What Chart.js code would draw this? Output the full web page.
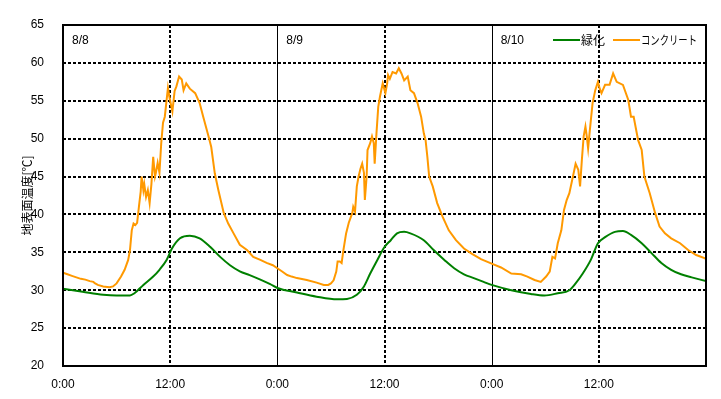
<!DOCTYPE html>
<html>
<head>
<meta charset="utf-8">
<script src="https://cdn.jsdelivr.net/npm/chart.js@4/dist/chart.umd.min.js"></script>
<style>
html,body{margin:0;padding:0;background:#fff;}
#wrap{width:721px;height:399px;position:relative;}
</style>
</head>
<body>
<div id="wrap"><canvas id="c" width="721" height="399"></canvas></div>
<script>
// ---- data ----
const xTickLabels = ["0:00","12:00","0:00","12:00","0:00","12:00"];
const dayLabels = ["8/8","8/9","8/10"];
const seriesNames = ["緑化","コンクリート"];
const yTitle = "地表面温度[℃]";

const greenHours = [0,2.2,4.5,6.0,7.5,8.0,9.0,10.1,10.8,11.6,12.2,13.1,14.2,15.3,16.5,17.6,18.7,19.8,20.9,22.1,23.2,
  24.0,26.2,28.4,30.7,31.8,32.9,33.7,34.4,35.2,36.0,36.7,37.4,38.2,38.9,40.4,41.5,42.7,43.8,44.9,46.0,47.1,
  48.0,50.2,52.4,53.9,55.4,56.7,57.4,58.2,59.1,59.9,60.7,61.8,62.7,63.6,64.8,65.9,67.0,68.1,69.2,70.4,72.0];
const greenValues = [30.2,29.8,29.4,29.3,29.3,29.6,30.7,31.8,32.7,34.0,35.5,36.85,37.2,36.85,35.7,34.4,33.3,32.5,32.0,31.4,30.8,
  30.3,29.7,29.15,28.8,28.85,29.4,30.5,32.2,34.0,35.7,36.6,37.5,37.7,37.5,36.6,35.3,34.0,32.9,32.1,31.6,31.1,
  30.7,30.0,29.5,29.3,29.6,30.0,30.9,32.2,34.0,36.2,37.0,37.7,37.8,37.3,36.2,34.9,33.6,32.7,32.1,31.7,31.2];

const concHours = [0,0.5,1,1.5,2,2.5,3,3.4,3.6,3.9,4.5,5.2,5.6,6.0,6.5,6.9,7.3,7.5,7.7,7.9,8.1,8.3,8.5,8.7,8.8,9.0,9.1,9.3,9.5,9.7,9.9,
  10.1,10.3,10.4,10.6,10.8,11.0,11.2,11.4,11.6,11.75,11.9,12.0,12.25,12.5,12.7,13.0,13.3,13.5,13.8,14.2,14.8,15.3,15.7,16.3,16.6,
  17.0,17.4,18.0,18.5,19.1,19.8,20.6,21.3,22.1,22.8,23.5,
  24.0,24.5,25.1,25.6,26.2,27.3,28.4,29.2,29.7,30.0,30.3,30.6,30.75,31.0,31.2,31.4,31.7,32.0,32.4,32.5,32.7,32.9,33.1,33.3,33.5,
  33.7,33.8,34.0,34.1,34.4,34.6,34.8,34.9,35.1,35.3,35.5,35.8,36.1,36.3,36.4,36.6,36.9,37.3,37.6,37.9,38.2,38.6,38.9,39.3,39.7,
  40.1,40.4,40.6,40.8,41.0,41.4,41.9,42.5,43.2,44.0,44.9,45.8,46.8,
  48.0,49.05,50.2,51.3,52.0,52.8,53.5,54.1,54.5,54.8,55.1,55.4,55.8,56.1,56.4,56.7,57.1,57.4,57.7,57.9,58.1,58.3,58.5,58.65,58.8,
  59.0,59.3,59.6,59.9,60.1,60.3,60.7,61.2,61.6,62.0,62.7,63.3,63.6,63.9,64.4,64.8,65.1,65.7,66.3,66.8,67.4,68.1,69.1,70.0,70.9,71.9,72.0];
const concValues = [32.3,32.1,31.9,31.7,31.5,31.4,31.2,31.1,30.9,30.7,30.5,30.4,30.5,30.9,31.8,32.7,34.0,35.3,37.9,38.8,38.6,38.9,41.0,43.0,45.0,43.2,44.0,42.3,43.2,41.5,44.0,
  47.6,45.0,45.5,46.8,45.5,49.4,52.1,52.9,55.1,56.7,55.6,55.0,53.6,56.3,56.9,58.2,57.8,56.4,57.3,56.6,56.0,54.7,52.9,50.3,48.9,
  45.4,43.2,40.2,38.8,37.5,36.0,35.3,34.4,34.0,33.6,33.3,
  32.9,32.5,32.0,31.8,31.6,31.35,31.0,30.7,30.7,30.9,31.3,32.45,33.8,33.8,33.6,35.3,37.5,38.9,40.2,41.0,40.4,43.7,45.0,46.0,46.7,
  45.5,41.9,45.0,48.5,49.4,50.3,49.4,46.7,50.7,54.2,55.6,57.3,56.0,57.3,58.4,57.9,58.8,58.6,59.3,58.6,57.7,58.2,56.4,56.0,54.7,
  52.9,50.7,49.8,47.6,45.0,43.7,41.5,39.7,37.9,36.6,35.5,34.8,34.1,
  33.5,33.0,32.2,32.1,31.8,31.35,31.1,31.8,32.45,34.4,34.2,36.2,37.9,40.6,41.9,42.8,45.0,46.7,45.9,43.7,47.2,50.3,51.6,50.3,48.7,
  51.2,54.7,56.4,57.5,56.6,56.0,57.1,57.1,58.6,57.5,57.1,55.1,52.9,52.9,49.8,48.5,45.0,42.8,40.2,38.4,37.5,36.85,36.2,35.3,34.65,34.2,34.1];

const GREEN = "#008000";
const ORANGE = "#FF9900";
const TXT_FONT = "12px 'Liberation Sans', Arial, sans-serif";
const JP_FONT = "12px 'Noto Sans CJK JP', sans-serif";

const toPts = (xs, ys) => xs.map((x, i) => ({x: x, y: ys[i]}));

const gridPlugin = {
  id: 'customGrid',
  beforeDatasetsDraw(chart) {
    const {ctx, chartArea: a, scales: {x, y}} = chart;
    ctx.save();
    ctx.strokeStyle = '#000';
    ctx.lineWidth = 2;
    ctx.setLineDash([3, 2]);
    for (let v = 25; v <= 60; v += 5) {
      const py = Math.round(y.getPixelForValue(v));
      ctx.beginPath(); ctx.moveTo(a.left, py); ctx.lineTo(a.right, py); ctx.stroke();
    }
    [12, 36, 60].forEach(h => {
      const px = Math.round(x.getPixelForValue(h));
      ctx.beginPath(); ctx.moveTo(px, a.top); ctx.lineTo(px, a.bottom); ctx.stroke();
    });
    ctx.setLineDash([]);
    ctx.lineWidth = 1;
    [24, 48].forEach(h => {
      const px = Math.round(x.getPixelForValue(h)) + 0.5;
      ctx.beginPath(); ctx.moveTo(px, a.top); ctx.lineTo(px, a.bottom); ctx.stroke();
    });
    ctx.fillStyle = '#000';
    ctx.font = TXT_FONT;
    ctx.textBaseline = 'middle';
    ctx.textAlign = 'left';
    dayLabels.forEach((t, i) => {
      ctx.fillText(t, x.getPixelForValue(i * 24) + 9, a.top + 16);
    });
    ctx.restore();
  },
  afterDatasetsDraw(chart) {
    const {ctx, chartArea: a} = chart;
    ctx.save();
    ctx.strokeStyle = '#000';
    ctx.lineWidth = 2;
    ctx.strokeRect(a.left, a.top, a.right - a.left, a.bottom - a.top);
    ctx.font = JP_FONT;
    ctx.textBaseline = 'middle';
    ctx.textAlign = 'left';
    ctx.fillStyle = '#000';
    const ly = a.top + 15;
    const items = [
      {c: GREEN, x0: 553, x1: 580, tx: 581, w: 26, t: seriesNames[0]},
      {c: ORANGE, x0: 613, x1: 640, tx: 641, w: 56, t: seriesNames[1]}
    ];
    items.forEach(it => {
      ctx.strokeStyle = it.c; ctx.lineWidth = 2;
      ctx.beginPath(); ctx.moveTo(it.x0, ly); ctx.lineTo(it.x1, ly); ctx.stroke();
      ctx.fillText(it.t, it.tx, ly, it.w);
    });
    ctx.restore();
  }
};

new Chart(document.getElementById('c'), {
  type: 'line',
  data: {
    datasets: [
      {label: seriesNames[0], data: toPts(greenHours, greenValues), borderColor: GREEN, borderWidth: 2,
       pointRadius: 0, cubicInterpolationMode: 'monotone', fill: false},
      {label: seriesNames[1], data: toPts(concHours, concValues), borderColor: ORANGE, borderWidth: 2,
       pointRadius: 0, tension: 0, fill: false}
    ]
  },
  options: {
    responsive: false,
    animation: false,
    layout: {padding: {left: 0, right: 15, top: 25, bottom: 0}},
    plugins: {legend: {display: false}, tooltip: {enabled: false}},
    scales: {
      x: {
        type: 'linear', min: 0, max: 72,
        afterFit(s) { s.height = 33; },
        afterBuildTicks(s) { s.ticks = [0, 12, 24, 36, 48, 60].map(v => ({value: v})); },
        grid: {display: false},
        border: {display: false},
        ticks: {
          color: '#000', font: {family: "'Liberation Sans', Arial, sans-serif", size: 12},
          padding: 3, maxRotation: 0, autoSkip: false,
          callback: (v) => xTickLabels[Math.round(v / 12)]
        }
      },
      y: {
        min: 20, max: 65,
        afterFit(s) { s.width = 63; },
        grid: {display: false},
        border: {display: false},
        ticks: {
          stepSize: 5, color: '#000', padding: 11,
          font: {family: "'Liberation Sans', Arial, sans-serif", size: 12}
        },
        title: {
          display: true, text: yTitle, color: '#000',
          font: {family: "'Noto Sans CJK JP', sans-serif", size: 12},
          padding: {top: 20, bottom: 0}
        }
      }
    }
  },
  plugins: [gridPlugin]
});
</script>
</body>
</html>
